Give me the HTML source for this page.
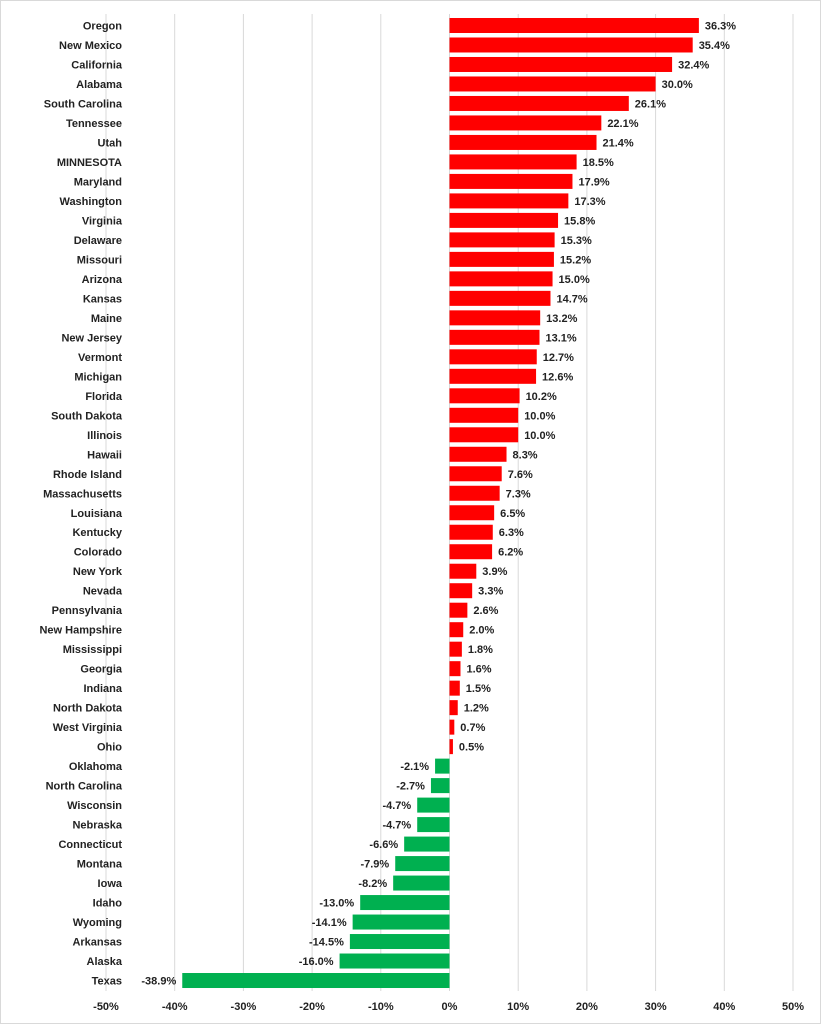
<!DOCTYPE html>
<html><head><meta charset="utf-8"><style>
html,body{margin:0;padding:0;background:#fff;}
svg{display:block;font-family:"Liberation Sans",Arial,sans-serif;font-weight:bold;font-size:11px;fill:#222;}
</style></head><body>
<svg id="s" width="821" height="1024" viewBox="0 0 821 1024" xmlns="http://www.w3.org/2000/svg">
<rect x="0.5" y="0.5" width="820" height="1023" fill="#fff" stroke="#d9d9d9"/>
<g id="g"></g>
</svg>
<script>
var d=[["Oregon",36.3],["New Mexico",35.4],["California",32.4],["Alabama",30.0],["South Carolina",26.1],["Tennessee",22.1],["Utah",21.4],["MINNESOTA",18.5],["Maryland",17.9],["Washington",17.3],["Virginia",15.8],["Delaware",15.3],["Missouri",15.2],["Arizona",15.0],["Kansas",14.7],["Maine",13.2],["New Jersey",13.1],["Vermont",12.7],["Michigan",12.6],["Florida",10.2],["South Dakota",10.0],["Illinois",10.0],["Hawaii",8.3],["Rhode Island",7.6],["Massachusetts",7.3],["Louisiana",6.5],["Kentucky",6.3],["Colorado",6.2],["New York",3.9],["Nevada",3.3],["Pennsylvania",2.6],["New Hampshire",2.0],["Mississippi",1.8],["Georgia",1.6],["Indiana",1.5],["North Dakota",1.2],["West Virginia",0.7],["Ohio",0.5],["Oklahoma",-2.1],["North Carolina",-2.7],["Wisconsin",-4.7],["Nebraska",-4.7],["Connecticut",-6.6],["Montana",-7.9],["Iowa",-8.2],["Idaho",-13.0],["Wyoming",-14.1],["Arkansas",-14.5],["Alaska",-16.0],["Texas",-38.9]];
var x0=449.5,k=6.87,h='';
for(var t=-50;t<=50;t+=10){var x=x0+t*k;h+='<line x1="'+x+'" y1="14" x2="'+x+'" y2="991" stroke="#d9d9d9" stroke-width="1"/>';h+='<text x="'+x+'" y="1010" text-anchor="middle">'+t+'%</text>';}
d.forEach(function(r,i){var c=25.5+i*19.49,v=r[1],w=Math.abs(v)*k,bx=v>=0?x0:x0-w;
h+='<rect x="'+bx+'" y="'+(c-7.5)+'" width="'+w+'" height="15" fill="'+(v>=0?'#ff0000':'#00b050')+'"/>';
h+='<text x="122" y="'+(c+4)+'" text-anchor="end">'+r[0]+'</text>';
h+='<text x="'+(v>=0?x0+w+6:x0-w-6)+'" y="'+(c+4)+'" text-anchor="'+(v>=0?'start':'end')+'">'+v.toFixed(1)+'%</text>';});
document.getElementById('g').innerHTML=h;
</script>
</body></html>
